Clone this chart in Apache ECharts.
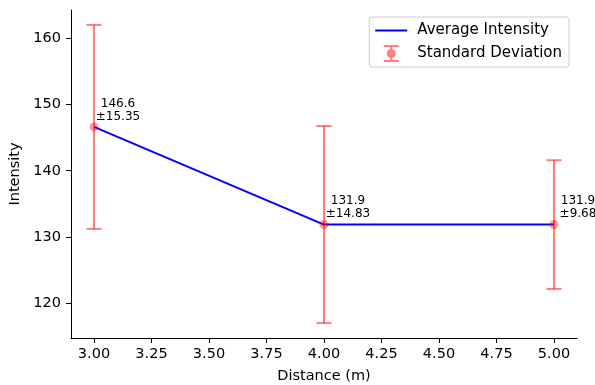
<!DOCTYPE html>
<html><head><meta charset="utf-8">
<script src="https://cdn.jsdelivr.net/npm/echarts@6/dist/echarts.min.js"></script>
<style>html,body{margin:0;padding:0;background:#fff}#c{width:595px;height:385px}</style>
</head><body><div id="c"></div>
<script>
const distances = [3, 4, 5];
const meanIntensity = [146.6, 131.9, 131.9];
const stdIntensity = [15.35, 14.83, 9.68];
const xTicks = [3.00, 3.25, 3.50, 3.75, 4.00, 4.25, 4.50, 4.75, 5.00];
const yTicks = [120, 130, 140, 150, 160];
const xRange = [2.9, 5.1];
const yRange = [114.83, 164.19];
const seriesNames = ['Average Intensity', 'Standard Deviation'];
const axisNames = ['Distance (m)', 'Intensity'];

const FONT = 'DejaVu Sans';
const ERR = 'rgba(255,0,0,0.5)';
const rows = distances.map((d, i) => [d, meanIntensity[i], stdIntensity[i]]);
const errIcon = 'path://M0,0h15v2h-15zM0,15h15v2h-15zM6.5,0h2v17h-2zM3,8.5a4.5,4.5 0 1,1 9,0a4.5,4.5 0 1,1 -9,0z';
const lineIcon = 'path://M0,0h32v2h-32z';

const chart = echarts.init(document.getElementById('c'), null, {renderer: 'canvas'});
chart.setOption({
  animation: false,
  backgroundColor: '#fff',
  grid: {left: 71, right: 18, top: 10, bottom: 47, containLabel: false, outerBoundsMode: 'none'},
  legend: {
    orient: 'vertical', right: 26, top: 17,
    itemWidth: 32, itemHeight: 17, itemGap: 7,
    padding: [6, 7, 5, 6],
    backgroundColor: '#fff', borderColor: '#cccccc', borderWidth: 1, borderRadius: 3,
    textStyle: {fontFamily: FONT, fontSize: 15, color: '#000', padding: [0, 0, 0, 5]},
    data: [{name: seriesNames[0], icon: lineIcon}, {name: seriesNames[1], icon: errIcon}]
  },
  xAxis: {
    type: 'value', min: xRange[0], max: xRange[1],
    name: axisNames[0], nameLocation: 'middle', nameGap: 31,
    nameTextStyle: {fontFamily: FONT, fontSize: 14.5, color: '#000'},
    axisLine: {show: true, lineStyle: {color: '#000', width: 1}},
    axisTick: {show: true, length: 5, customValues: xTicks, lineStyle: {color: '#000', width: 1}},
    axisLabel: {customValues: xTicks, margin: 9, fontFamily: FONT, fontSize: 14.5, color: '#000',
      formatter: v => Number(v).toFixed(2)},
    splitLine: {show: false}
  },
  yAxis: {
    type: 'value', min: yRange[0], max: yRange[1],
    name: axisNames[1], nameLocation: 'middle', nameGap: 46,
    nameTextStyle: {fontFamily: FONT, fontSize: 14.5, color: '#000'},
    axisLine: {show: true, lineStyle: {color: '#000', width: 1}},
    axisTick: {show: true, length: 5, customValues: yTicks, lineStyle: {color: '#000', width: 1}},
    axisLabel: {customValues: yTicks, margin: 10, fontFamily: FONT, fontSize: 14.5, color: '#000',
      formatter: v => String(Math.round(v))},
    splitLine: {show: false}
  },
  series: [
    {
      name: seriesNames[0], type: 'line', z: 2,
      data: distances.map((d, i) => [d, meanIntensity[i]]),
      symbol: 'none', showSymbol: false,
      lineStyle: {color: '#0000ff', width: 2}, itemStyle: {color: '#0000ff'}
    },
    {
      name: seriesNames[1], type: 'custom', z: 3,
      itemStyle: {color: ERR},
      data: rows,
      renderItem(params, api) {
        const x = api.value(0), m = api.value(1), s = api.value(2);
        const top = api.coord([x, m + s]);
        const bot = api.coord([x, m - s]);
        const hw = 7.5;
        const st = {stroke: ERR, lineWidth: 2, fill: null};
        return {type: 'group', children: [
          {type: 'line', shape: {x1: top[0], y1: top[1], x2: bot[0], y2: bot[1]}, style: st},
          {type: 'line', shape: {x1: top[0] - hw, y1: top[1], x2: top[0] + hw, y2: top[1]}, style: st},
          {type: 'line', shape: {x1: bot[0] - hw, y1: bot[1], x2: bot[0] + hw, y2: bot[1]}, style: st}
        ]};
      }
    },
    {
      name: seriesNames[1], type: 'scatter', z: 4,
      symbol: 'circle', symbolSize: 9,
      itemStyle: {color: ERR},
      data: distances.map((d, i) => [d, meanIntensity[i]])
    },
    {
      name: 'labels', type: 'custom', z: 5,
      data: rows,
      renderItem(params, api) {
        const x = api.value(0), m = api.value(1), s = api.value(2);
        const p = api.coord([x, m]);
        return {type: 'text', x: p[0] + 24, y: p[1] - 4,
          style: {text: m.toFixed(1) + '\n±' + s.toFixed(2), align: 'center', verticalAlign: 'bottom',
            fontFamily: FONT, fontSize: 12, lineHeight: 13, fill: '#000'}};
      }
    }
  ]
});
</script>
</body></html>
